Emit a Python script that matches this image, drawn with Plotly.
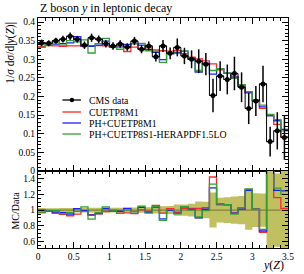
import plotly.graph_objects as go

# ---- data ----
bin_edges = [0.0, 0.1, 0.2, 0.3, 0.4, 0.5, 0.6, 0.7, 0.8, 0.9, 1.0, 1.1, 1.2,
             1.3, 1.4, 1.5, 1.6, 1.7, 1.8, 1.9, 2.0, 2.1, 2.2, 2.3, 2.4, 2.5,
             2.6, 2.7, 2.8, 2.9, 3.0, 3.1, 3.2, 3.3, 3.4, 3.5]

cms_data = [0.344, 0.343, 0.350, 0.354, 0.362, 0.354, 0.338, 0.358, 0.354, 0.342,
            0.336, 0.341, 0.333, 0.349, 0.327, 0.336, 0.307, 0.336, 0.316, 0.332,
            0.309, 0.300, 0.295, 0.287, 0.203, 0.255, 0.246, 0.262, 0.225, 0.168,
            0.188, 0.234, 0.079, 0.108, 0.090]
cms_err = [0.009, 0.008, 0.008, 0.009, 0.010, 0.009, 0.010, 0.011, 0.010, 0.010,
           0.010, 0.010, 0.010, 0.011, 0.011, 0.012, 0.013, 0.016, 0.016, 0.024,
           0.022, 0.024, 0.032, 0.030, 0.045, 0.040, 0.040, 0.045, 0.040, 0.042,
           0.040, 0.049, 0.040, 0.050, 0.060]

cuetp8m1 = [0.335, 0.337, 0.336, 0.335, 0.336, 0.336, 0.335, 0.337, 0.337, 0.336,
            0.333, 0.333, 0.321, 0.333, 0.328, 0.331, 0.325, 0.323, 0.322, 0.323,
            0.315, 0.306, 0.301, 0.296, 0.288, 0.272, 0.262, 0.253, 0.232, 0.212,
            0.190, 0.168, 0.150, 0.125, 0.092]
ph_cuetp8m1 = [0.344, 0.340, 0.341, 0.342, 0.344, 0.361, 0.336, 0.335, 0.338, 0.349,
               0.333, 0.336, 0.340, 0.342, 0.338, 0.326, 0.319, 0.299, 0.315, 0.318,
               0.322, 0.303, 0.266, 0.290, 0.260, 0.275, 0.263, 0.252, 0.228, 0.210,
               0.190, 0.172, 0.148, 0.135, 0.112]
ph_cuetp8s1 = [0.332, 0.340, 0.347, 0.338, 0.350, 0.347, 0.352, 0.317, 0.342, 0.356,
               0.336, 0.327, 0.333, 0.342, 0.343, 0.323, 0.322, 0.292, 0.318, 0.316,
               0.322, 0.300, 0.270, 0.285, 0.270, 0.275, 0.263, 0.249, 0.232, 0.213,
               0.190, 0.177, 0.152, 0.138, 0.108]

series = [("CUETP8M1", cuetp8m1, "rgb(255,40,40)"),
          ("PH+CUETP8M1", ph_cuetp8m1, "rgb(30,30,255)"),
          ("PH+CUETP8S1-HERAPDF1.5LO", ph_cuetp8s1, "rgb(50,160,50)")]

FONT = "Liberation Serif"


def step(vals):
    return list(vals) + [vals[-1]]


centers = [(bin_edges[i] + bin_edges[i + 1]) / 2 for i in range(len(cms_data))]

fig = go.Figure()

# ---- ratio band (data uncertainty) ----
lower = [1 - e / d for d, e in zip(cms_data, cms_err)]
upper = [1 + e / d for d, e in zip(cms_data, cms_err)]
band = "rgb(192,192,96)"
fig.add_trace(go.Scatter(x=bin_edges, y=step(lower), mode="lines", line_shape="hv",
                         line=dict(width=0, color=band), xaxis="x2", yaxis="y2",
                         showlegend=False, hoverinfo="skip"))
fig.add_trace(go.Scatter(x=bin_edges, y=step(upper), mode="lines", line_shape="hv",
                         line=dict(width=0, color=band), fill="tonexty", fillcolor=band,
                         xaxis="x2", yaxis="y2", showlegend=False, hoverinfo="skip"))
fig.add_trace(go.Scatter(x=bin_edges, y=step([d / d for d in cms_data]), mode="lines",
                         line_shape="hv", line=dict(width=1.2, color="rgb(130,130,60)"),
                         xaxis="x2", yaxis="y2", showlegend=False))

# ---- MC histograms ----
for name, vals, col in series:
    fig.add_trace(go.Scatter(x=bin_edges, y=step(vals), mode="lines", line_shape="hv",
                             line=dict(width=1.3, color=col), xaxis="x", yaxis="y",
                             showlegend=False))
    ratio = [m / d for m, d in zip(vals, cms_data)]
    fig.add_trace(go.Scatter(x=bin_edges, y=step(ratio), mode="lines", line_shape="hv",
                             line=dict(width=1.3, color=col), xaxis="x2", yaxis="y2",
                             showlegend=False))

# ---- data ----
fig.add_trace(go.Scatter(x=bin_edges, y=step(cms_data), mode="lines", line_shape="hv",
                         line=dict(width=1, color="black"), xaxis="x", yaxis="y",
                         showlegend=False))
fig.add_trace(go.Scatter(x=centers, y=cms_data, mode="markers",
                         marker=dict(size=5, color="black"),
                         error_y=dict(type="data", array=cms_err, color="black",
                                      thickness=1.5, width=0),
                         error_x=dict(type="constant", value=0.05, color="black",
                                      thickness=1.2, width=0),
                         xaxis="x", yaxis="y", showlegend=False))

# ---- axes ----
split = 77 / 230
common = dict(showline=True, linecolor="black", linewidth=1, mirror="allticks",
              ticks="inside", ticklen=6, tickwidth=1, tickcolor="black",
              showgrid=False, zeroline=False,
              tickfont=dict(family=FONT, size=9.5, color="black"))
fig.update_layout(
    width=304, height=274,
    margin=dict(l=38, r=10, t=18, b=26),
    plot_bgcolor="white", paper_bgcolor="white",
    showlegend=False,
    xaxis=dict(domain=[0, 1], range=[0, 3.5], anchor="y", matches="x2",
               showticklabels=False, dtick=0.5,
               minor=dict(ticks="inside", ticklen=3, dtick=0.1, tickcolor="black"),
               **common),
    yaxis=dict(domain=[split, 1], range=[0, 0.411], anchor="x", dtick=0.05,
               minor=dict(ticks="inside", ticklen=3, dtick=0.01, tickcolor="black"),
               **common),
    xaxis2=dict(domain=[0, 1], range=[0, 3.5], anchor="y2", dtick=0.5,
                minor=dict(ticks="inside", ticklen=3, dtick=0.1, tickcolor="black"),
                **common),
    yaxis2=dict(domain=[0, split], range=[0.52, 1.495], anchor="x2", dtick=0.2,
                tick0=0,
                minor=dict(ticks="inside", ticklen=3, dtick=0.05, tickcolor="black"),
                **common),
)


def px(x):
    return (x - 38) / 256


def py(y):
    return (248 - y) / 230


ann = []
ann.append(dict(x=px(38), y=py(8), xref="paper", yref="paper", xanchor="left",
                yanchor="middle", showarrow=False,
                text="Z boson <i>y</i> in leptonic decay",
                font=dict(family=FONT, size=12, color="black")))
ann.append(dict(x=px(10), y=py(20), xref="paper", yref="paper", xanchor="center",
                yanchor="top", showarrow=False, textangle=-90,
                text="1/<i>σ</i> d<i>σ</i>/d|<i>y</i>(<i>Z</i>)|",
                font=dict(family=FONT, size=11.5, color="black")))
ann.append(dict(x=px(14), y=py(211), xref="paper", yref="paper", xanchor="center",
                yanchor="middle", showarrow=False, textangle=-90,
                text="MC/Data", font=dict(family=FONT, size=10, color="black")))
ann.append(dict(x=px(292), y=py(265), xref="paper", yref="paper", xanchor="right",
                yanchor="middle", showarrow=False,
                text="<i>y</i>(<i>Z</i>)", font=dict(family=FONT, size=12, color="black")))

legend_rows = [("CMS data", "black", 100)] + [(n, c, y) for (n, _, c), y in
                                              zip(series, [112, 123, 134])]
shapes = []
for name, col, yy in legend_rows:
    shapes.append(dict(type="line", xref="paper", yref="paper", x0=px(63), x1=px(82),
                       y0=py(yy), y1=py(yy), line=dict(color=col, width=1.3)))
    ann.append(dict(x=px(88), y=py(yy), xref="paper", yref="paper", xanchor="left",
                    yanchor="middle", showarrow=False, text=name,
                    font=dict(family=FONT, size=9.8, color="black")))
shapes.append(dict(type="circle", xref="paper", yref="paper", x0=px(70.5), x1=px(75),
                   y0=py(102.2), y1=py(97.8), fillcolor="black", line=dict(width=0)))

fig.update_layout(annotations=ann, shapes=shapes)

fig.write_html("out.html",
               config={"displayModeBar": False},
               post_script="document.body.style.margin='0';"
                           "document.body.style.overflow='hidden';")
